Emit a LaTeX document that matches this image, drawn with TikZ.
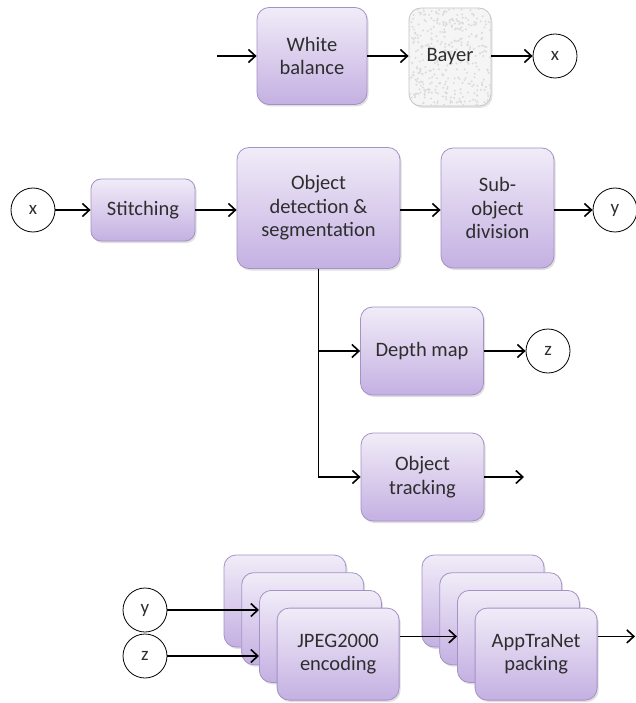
\documentclass[tikz,border=0pt]{standalone}
\usepackage{fontspec}
\setmainfont{Carlito}
\usetikzlibrary{arrows.meta,shadows}
\definecolor{boxtop}{HTML}{F1ECF8}
\definecolor{boxbot}{HTML}{C4B0E2}
\definecolor{boxline}{HTML}{A392C6}
\definecolor{txt}{HTML}{2E2E2E}
\tikzset{
  blk/.style={rectangle, rounded corners=12pt, draw=boxline, line width=0.8pt,
    top color=boxtop, bottom color=boxbot, align=center, text=txt,
    font=\fontsize{20.5}{23.5}\selectfont, inner sep=2pt,
    drop shadow={shadow xshift=1.5pt, shadow yshift=-2pt, opacity=0.25}},
  circ/.style={circle, draw=black, line width=0.8pt, fill=white, minimum size=44pt,
    inner sep=0pt, text=txt, font=\fontsize{19}{22}\selectfont},
  arr/.style={line width=1.6pt, -{Straight Barb[length=7pt,width=13pt,line width=1.6pt]}},
}
\begin{document}
\begin{tikzpicture}[x=1pt,y=-1pt]
\useasboundingbox (0,0) rectangle (636,703);
\fill[white] (0,0) rectangle (636,703);
% top row
\coordinate (in) at (217,56);
\node[blk, minimum width=110pt, minimum height=97pt] (wb) at (312,56) {White\\balance};
\node[rectangle, rounded corners=12pt, draw=gray!45, line width=0.8pt, fill=gray!8,
  minimum width=82pt, minimum height=98pt,
  drop shadow={shadow xshift=1.5pt, shadow yshift=-2pt, opacity=0.2}] (bayer) at (450,57) {};
\begin{scope}
\clip[rounded corners=12pt] (409,8) rectangle (491,106);
\pgfmathsetseed{7}
\foreach \i in {1,...,380}{
  \pgfmathsetmacro{\px}{409+82*rnd}
  \pgfmathsetmacro{\py}{8+98*rnd}
  \fill[gray!28] (\px,\py) circle (1.1pt);
}
\end{scope}
\node[text=txt, font=\fontsize{20.5}{23.5}\selectfont] (bayertext) at (bayer) {Bayer};
\node[circ] (cx1) at (555,56) {x};
\draw[arr] (in) -- (wb.west);
\draw[arr] (wb.east) -- (wb.east -| bayer.west);
\draw[arr] (bayer.east |- cx1) -- (cx1.west);
% second row
\node[circ] (cx2) at (33,210) {x};
\node[blk, rounded corners=10pt, minimum width=104pt, minimum height=62pt] (stitch) at (143,210) {Stitching};
\node[blk, minimum width=163pt, minimum height=121pt] (obj) at (318.5,208) {Object\\detection \&\\segmentation};
\node[blk, minimum width=113pt, minimum height=120pt] (sub) at (497.5,208) {Sub-\\object\\division};
\node[circ] (cy1) at (615,210) {y};
\draw[arr] (cx2) -- (stitch);
\draw[arr] (stitch.east) -- (stitch.east -| obj.west);
\draw[arr] (obj.east |- stitch) -- (sub.west |- stitch);
\draw[arr] (sub.east |- cy1) -- (cy1.west);
% branch
\node[blk, minimum width=123pt, minimum height=88pt] (depth) at (422,351) {Depth map};
\node[blk, minimum width=123pt, minimum height=88pt] (track) at (422.5,477) {Object\\tracking};
\node[circ] (cz1) at (548,351) {z};
\coordinate (tout) at (524,477);
\draw[arr] (obj.south) |- (track.west);
\draw[arr] (obj.south |- depth.west) -- (depth.west);
\draw[arr] (depth) -- (cz1);
\draw[arr] (track.east) -- (tout);
% bottom stacks
\foreach \k/\nm in {0/j1,1/j2,2/j3}{
  \node[blk, minimum width=122pt, minimum height=92pt] (\nm) at ({285+17.7*\k},{601+17.7*\k}) {};
}
\node[blk, minimum width=122pt, minimum height=92pt] (j4) at ({285+17.7*3},{601+17.7*3}) {JPEG2000\\encoding};
\foreach \k/\nm in {0/a1,1/a2,2/a3}{
  \node[blk, minimum width=122pt, minimum height=92pt] (\nm) at ({483+17.7*\k},{601+17.7*\k}) {};
}
\node[blk, minimum width=122pt, minimum height=92pt] (a4) at ({483+17.7*3},{601+17.7*3}) {AppTraNet\\packing};
\node[circ] (cy2) at (145,610) {y};
\node[circ] (cz2) at (145,656) {z};
\coordinate (bout) at (635,636.4);
\draw[arr] (cy2) -- (cy2 -| j3.west);
\draw[arr] (cz2) -- (cz2 -| j3.west);
\draw[arr] (j4.east |- a3.west) -- (a3.west);
\draw[arr] (a4.east |- a3.west) -- (bout);
\end{tikzpicture}
\end{document}
